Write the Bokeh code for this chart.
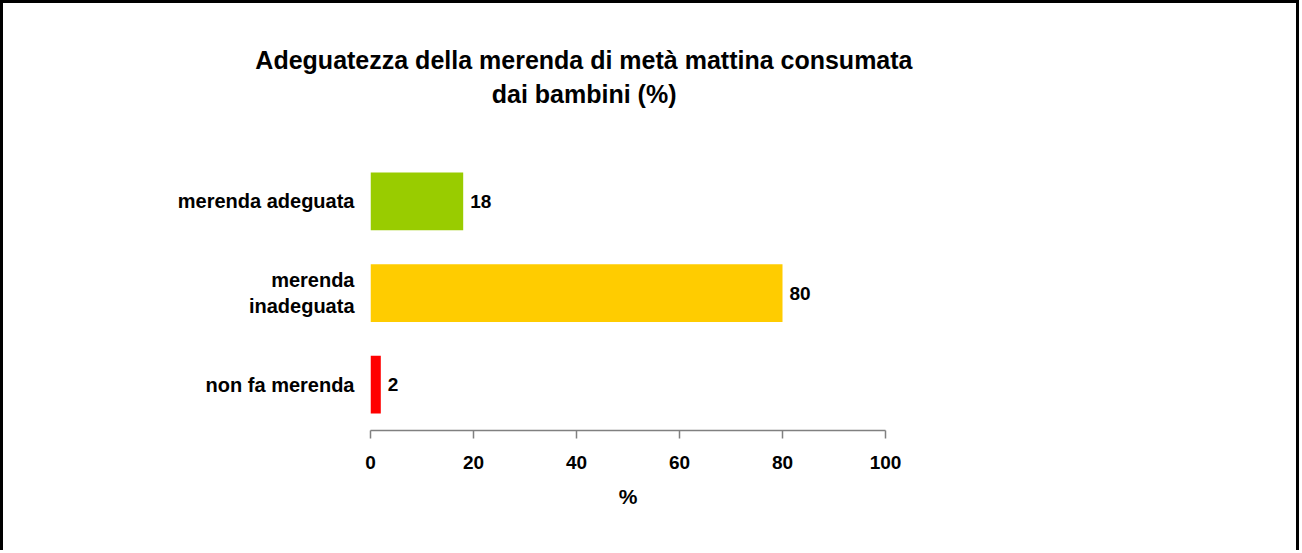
from bokeh.plotting import figure
from bokeh.models import FactorRange, ColumnDataSource, FixedTicker, Title
from bokeh.core.properties import value
from bokeh.embed import file_html
from bokeh.resources import INLINE

title_line1 = "Adeguatezza della merenda di metà mattina consumata"
title_line2 = "dai bambini (%)"
categories = ["non fa merenda", "merenda\ninadeguata", "merenda adeguata"]
values = [2, 80, 18]
colors = ["#FF0000", "#FFCC00", "#99CC00"]
x_ticks = [0, 20, 40, 60, 80, 100]
x_label = "%"

FONT = "Liberation Sans"

src = ColumnDataSource(dict(cat=categories, val=values, color=colors,
                            lab=[str(v) for v in values]))

p = figure(width=1299, height=550, output_backend="svg", toolbar_location=None,
           y_range=FactorRange(factors=categories), x_range=(0, 100),
           min_border_left=367, min_border_right=417, min_border_top=152,
           min_border_bottom=123, tools="")
p.styles = {"border-top": "3px solid black", "border-left": "3px solid black",
            "border-right": "3px solid black"}
p.outline_line_color = None
p.grid.visible = False
p.background_fill_color = "white"
p.border_fill_color = "white"

p.hbar(y="cat", right="val", left=0, height=0.63, color="color", source=src,
       line_color=None)
p.text(x="val", y="cat", text="lab", source=src, x_offset=7,
       text_baseline="middle", text_align="left", text_font=value(FONT),
       text_font_style="bold", text_font_size="19px", text_color="black")

xa = p.xaxis[0]
xa.ticker = FixedTicker(ticks=x_ticks)
xa.axis_line_color = "#808080"
xa.axis_line_width = 1.5
xa.major_tick_line_color = "#808080"
xa.major_tick_line_width = 1.5
xa.major_tick_in = 0
xa.major_tick_out = 8
xa.minor_tick_line_color = None
xa.major_label_text_font = FONT
xa.major_label_text_font_style = "bold"
xa.major_label_text_font_size = "19px"
xa.major_label_text_color = "black"
xa.major_label_standoff = 17
xa.axis_label = x_label
xa.axis_label_text_font = FONT
xa.axis_label_text_font_style = "bold"
xa.axis_label_text_font_size = "21px"
xa.axis_label_text_color = "black"
xa.axis_label_standoff = 13

ya = p.yaxis[0]
ya.axis_line_color = None
ya.major_tick_line_color = None
ya.major_tick_out = 0
ya.major_tick_in = 0
ya.minor_tick_line_color = None
ya.major_label_text_font = FONT
ya.major_label_text_font_style = "bold"
ya.major_label_text_font_size = "20px"
ya.major_label_text_color = "black"
ya.major_label_standoff = 16

spacer = Title(text=" ", text_font_size="2px", standoff=42)
t2 = Title(text=title_line2, align="right", offset=209, text_font=FONT,
           text_font_style="bold", text_font_size="25px", text_color="black",
           standoff=4)
t1 = Title(text=title_line1, align="right", offset=-27, text_font=FONT,
           text_font_style="bold", text_font_size="25px", text_color="black",
           standoff=4)
p.add_layout(spacer, "above")
p.add_layout(t2, "above")
p.add_layout(t1, "above")

open("out.html", "w").write(file_html(p, INLINE))
